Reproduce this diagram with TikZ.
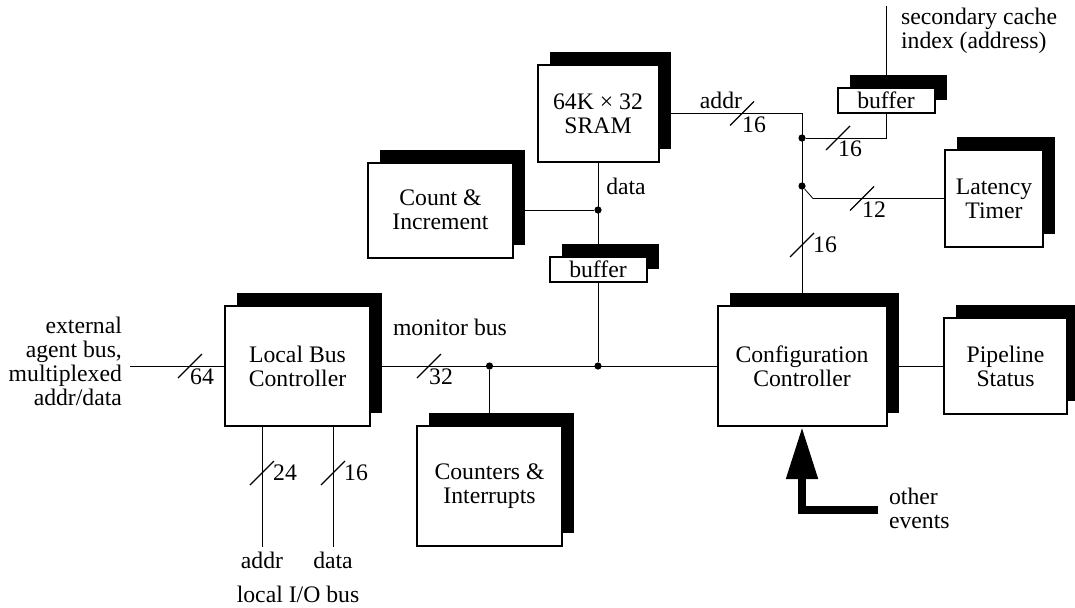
\documentclass[tikz,border=0pt]{standalone}
\usepackage{fontspec}
\setmainfont{Liberation Serif}
\usetikzlibrary{positioning, arrows.meta, shadows, backgrounds, calc}

\tikzset{
  unit/.style={draw, line width=1pt, fill=white, align=center, inner sep=0pt,
    drop shadow={shadow xshift=6pt, shadow yshift=6.5pt, fill=black, opacity=1}},
  wire/.style={line width=0.6pt},
  dot/.style={circle, fill, inner sep=0pt, minimum size=3.6pt},
  lbl/.style={inner sep=0pt},
}
% bus width marks: slash across the wire plus its width
\newcommand{\hwidth}[2]{\draw[wire] (#1) +(-12,12) -- +(12,-12);
  \node[lbl] at ($(#1)+(12,11)$) {#2};}
\newcommand{\vwidth}[2]{\draw[wire] (#1) +(-12,12) -- +(12,-12);
  \node[lbl] at ($(#1)+(23,0)$) {#2};}

\begin{document}
\begin{tikzpicture}[x=0.5pt, y=-0.5pt, font=\rmfamily\fontsize{11.85}{12}\selectfont]
  \useasboundingbox (0,0) rectangle (1075,607);

  % functional units
  \node[unit, minimum width=60.5pt, minimum height=48.5pt] (sram) at (598,113.5) {64K × 32\\SRAM};
  \node[unit, minimum width=72.5pt, minimum height=47.5pt] (cnt) at (440.5,210) {Count \&\\Increment};
  \node[unit, minimum width=48.5pt, minimum height=12.5pt] (mbuf) at (598,269.5) {buffer};
  \node[unit, minimum width=48.5pt, minimum height=12.5pt] (tbuf) at (886,100.5) {buffer};
  \node[unit, minimum width=49pt, minimum height=48.5pt] (lat) at (994,198.5) {Latency\\Timer};
  \node[unit, minimum width=72.5pt, minimum height=60pt] (lbc) at (297.5,366) {Local Bus\\Controller};
  \node[unit, minimum width=72.5pt, minimum height=60pt] (ci) at (489.5,486) {Counters \&\\Interrupts};
  \node[unit, minimum width=84.5pt, minimum height=60pt] (cfg) at (802,366) {Configuration\\Controller};
  \node[unit, minimum width=61.5pt, minimum height=48pt] (pipe) at (1005.5,366) {Pipeline\\Status};

  % junctions and free ends
  \node[dot] (jc) at (598,210) {};
  \node[dot] (jm1) at (489.5,366) {};
  \node[dot] (jm2) at (598,366) {};
  \node[dot] (ja1) at (802,138) {};
  \node[dot] (ja2) at (802,186) {};
  \coordinate (kink) at (813,198.5);
  \coordinate (ext) at (130,366);
  \coordinate (sec) at (886,6);
  \coordinate (ioa) at (262,547);
  \coordinate (iod) at (333,547);
  \coordinate (evt) at (878,509.5);

  \begin{scope}[on background layer, wire]
    \draw (ext) -- (lbc);
    \draw (lbc) -- (cfg);
    \draw (jm1) -- (ci);
    \draw (jm2) -- (mbuf);
    \draw (mbuf) -- (sram);
    \draw (jc) -- (cnt);
    \draw (sram.east) -| (cfg.north);
    \draw (ja1) -| (tbuf.south);
    \draw (tbuf) -- (sec);
    \draw (ja2) -- (kink) -- (lat.west);
    \draw (cfg) -- (pipe);
    \draw (ioa |- lbc.south) -- (ioa);
    \draw (iod |- lbc.south) -- (iod);
  \end{scope}

  % other events into the configuration controller
  \draw[line width=4pt, -{Triangle[length=26pt, width=15pt]}] (evt) -| (cfg.south);

  % bus widths
  \hwidth{742,113.5}{16}
  \hwidth{838,138}{16}
  \hwidth{862,198.5}{12}
  \vwidth{802,245}{16}
  \hwidth{190,366}{64}
  \hwidth{429,366}{32}
  \vwidth{262,473}{24}
  \vwidth{333,473}{16}

  % labels
  \node at (721,100) {addr};
  \node at (626,186) {data};
  \node at (450,327) {monitor bus};
  \node[anchor=west, align=left] at (894,31) {secondary cache\\index (address)};
  \node[anchor=east, align=right] at (129,361) {external\\agent bus,\\multiplexed\\addr/data};
  \node at (262,560) {addr};
  \node at (333,560) {data};
  \node[inner sep=1pt] at (298,594) {local I/O bus};
  \node[anchor=west, align=left] at (882,508) {other\\events};
\end{tikzpicture}
\end{document}
